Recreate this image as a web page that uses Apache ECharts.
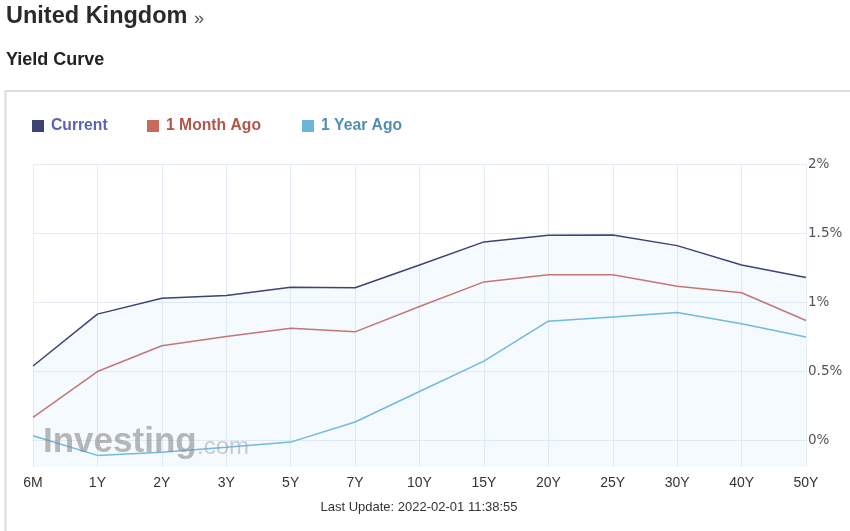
<!DOCTYPE html>
<html>
<head>
<meta charset="utf-8">
<script src="https://cdn.jsdelivr.net/npm/echarts@6/dist/echarts.min.js"></script>
<style>
html,body{margin:0;padding:0;background:#fff;}
#chart{width:850px;height:531px;}
</style>
</head>
<body>
<div id="chart"></div>
<script>
const categories = ['6M','1Y','2Y','3Y','5Y','7Y','10Y','15Y','20Y','25Y','30Y','40Y','50Y'];
const current = [0.54, 0.915, 1.03, 1.05, 1.11, 1.105, 1.27, 1.437, 1.485, 1.487, 1.41, 1.27, 1.18];
const monthAgo = [0.168, 0.50, 0.686, 0.753, 0.813, 0.787, 0.97, 1.148, 1.199, 1.20, 1.117, 1.069, 0.869];
const yearAgo = [0.036, -0.106, -0.084, -0.048, -0.01, 0.135, 0.356, 0.575, 0.864, 0.895, 0.926, 0.845, 0.749];
const yTicks = [0, 0.5, 1, 1.5, 2];
const seriesNames = ['Current', '1 Month Ago', '1 Year Ago'];

const chart = echarts.init(document.getElementById('chart'), null, {renderer: 'canvas'});
const gridColor = '#e6ecf6';
const legendText = {fontSize: 15.7, fontWeight: 'bold', fontFamily: 'Liberation Sans', padding: [0, 0, 0, 2]};
const option = {
  animation: false,
  textStyle: {fontFamily: 'Liberation Sans, Arial, sans-serif'},
  grid: {left: 33, right: 44, top: 164, bottom: 64, containLabel: false},
  legend: [
    {left: 27, top: 113, itemWidth: 12, itemHeight: 12, itemGap: 6, icon: 'rect',
     data: [{name: seriesNames[0], textStyle: {color: '#5a62b5'}}],
     textStyle: legendText, selectedMode: false},
    {left: 142, top: 113, itemWidth: 12, itemHeight: 12, icon: 'rect',
     data: [{name: seriesNames[1], textStyle: {color: '#b0574c'}}],
     textStyle: legendText, selectedMode: false},
    {left: 297, top: 113, itemWidth: 12, itemHeight: 12, icon: 'rect',
     data: [{name: seriesNames[2], textStyle: {color: '#4f8fb0'}}],
     textStyle: legendText, selectedMode: false}
  ],
  xAxis: {
    type: 'category',
    data: categories,
    boundaryGap: false,
    axisLine: {lineStyle: {color: '#ccd6eb', width: 1}},
    axisTick: {show: false},
    axisLabel: {color: '#333', fontSize: 14, fontFamily: 'Liberation Sans, Arial', margin: 9},
    splitLine: {show: true, lineStyle: {color: gridColor, width: 1}}
  },
  yAxis: {
    type: 'value',
    position: 'right',
    min: -0.19,
    max: 2,
    axisLine: {show: false},
    axisTick: {show: false},
    splitLine: {show: false},
    axisLabel: {
      customValues: yTicks,
      color: '#555', fontSize: 13.5, fontFamily: 'DejaVu Sans', margin: 2,
      formatter: v => v + '%'
    }
  },
  graphic: [
    {type: 'line', shape: {x1: 5.5, y1: 90, x2: 5.5, y2: 531}, style: {stroke: '#dcdcdc', lineWidth: 2}, silent: true},
    {type: 'line', shape: {x1: 5, y1: 91, x2: 850, y2: 91}, style: {stroke: '#dcdcdc', lineWidth: 2}, silent: true},
    {type: 'text', left: 6, top: 5, style: {text: 'United Kingdom', font: 'bold 23.5px "Liberation Sans", Arial', fill: '#2a2a2a'}},
    {type: 'text', left: 194, top: 10, style: {text: '»', font: '18px "Liberation Sans", Arial', fill: '#555'}},
    {type: 'text', left: 6, top: 51, style: {text: 'Yield Curve', font: 'bold 18px "Liberation Sans", Arial', fill: '#222'}},
    {type: 'text', x: 419, y: 507, style: {text: 'Last Update: 2022-02-01 11:38:55', font: '13px "Liberation Sans", Arial', fill: '#333', align: 'center', verticalAlign: 'middle'}},
    {type: 'text', x: 43, y: 460, z: 100, style: {text: 'Investing', font: 'bold 35px "Liberation Sans", Arial', fill: 'rgba(140,140,140,0.62)', verticalAlign: 'bottom'}},
    {type: 'text', x: 197, y: 459, z: 100, style: {text: '.com', font: '24px "Liberation Sans", Arial', fill: 'rgba(160,160,160,0.5)', verticalAlign: 'bottom'}}
  ],
  series: [
    {
      name: 'grid', type: 'line', data: [], silent: true, z: 1,
      markLine: {
        silent: true, symbol: 'none', label: {show: false}, z: 1,
        emphasis: {disabled: true},
        lineStyle: {color: gridColor, type: 'solid', width: 1},
        data: yTicks.map(v => ({yAxis: v}))
      }
    },
    {
      name: seriesNames[0], type: 'line', data: current, symbol: 'none', z: 4,
      lineStyle: {color: '#3d4373', width: 1.5}, itemStyle: {color: '#3d4373'},
      areaStyle: {color: 'rgba(170,215,245,0.18)', origin: 'start'}
    },
    {
      name: seriesNames[1], type: 'line', data: monthAgo, symbol: 'none', z: 3,
      lineStyle: {color: '#c86a5e', width: 1.5}, itemStyle: {color: '#c86a5e'}
    },
    {
      name: seriesNames[2], type: 'line', data: yearAgo, symbol: 'none', z: 3,
      lineStyle: {color: '#6bb5d9', width: 1.5}, itemStyle: {color: '#6bb5d9'}
    }
  ]
};
chart.setOption(option);
</script>
</body>
</html>
